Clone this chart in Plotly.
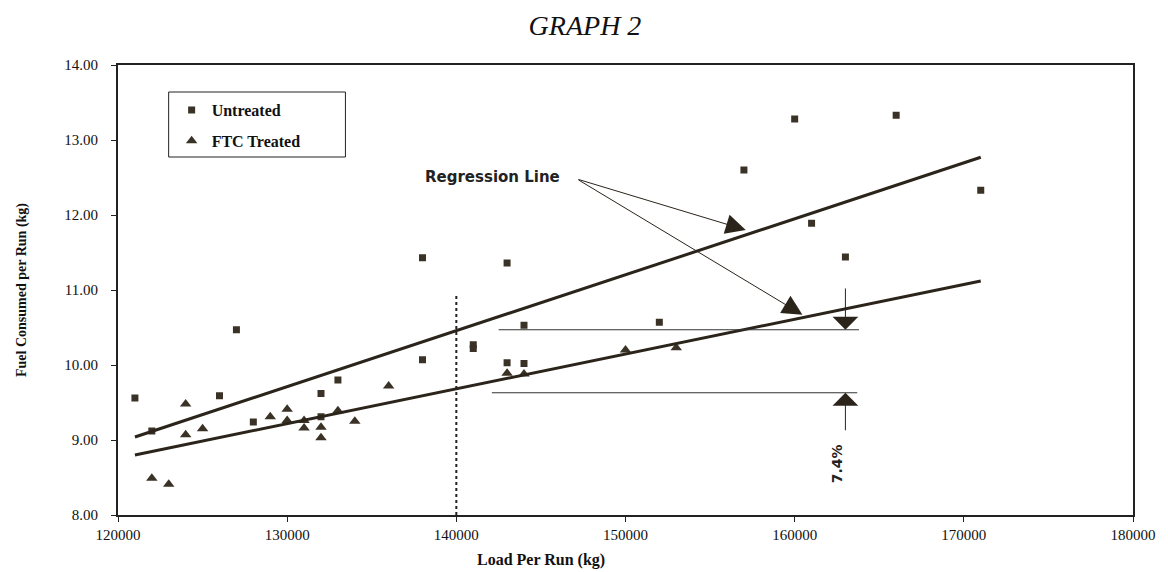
import plotly.graph_objects as go

# ---- data ----
untreated_load = [121000, 122000, 126000, 127000, 128000, 132000, 132000, 133000,
                  138000, 138000, 141000, 141000, 143000, 143000, 144000, 144000,
                  152000, 157000, 160000, 161000, 163000, 166000, 171000]
untreated_fuel = [9.56, 9.12, 9.59, 10.47, 9.24, 9.62, 9.31, 9.80,
                  11.43, 10.07, 10.22, 10.27, 11.36, 10.03, 10.53, 10.02,
                  10.57, 12.60, 13.28, 11.89, 11.44, 13.33, 12.33]

treated_load = [122000, 123000, 124000, 124000, 125000, 129000, 130000, 130000,
                131000, 131000, 132000, 132000, 133000, 134000, 136000, 143000,
                144000, 150000, 153000]
treated_fuel = [8.49, 8.41, 9.48, 9.07, 9.15, 9.31, 9.41, 9.26,
                9.26, 9.16, 9.17, 9.03, 9.39, 9.25, 9.72, 9.89,
                9.88, 10.20, 10.23]

fit_load = [121000, 171000]
untreated_fit = [9.04, 12.77]
treated_fit = [8.80, 11.12]

divider_load = 140000
divider_top = 10.95
ref_lines = {"upper": (142500, 163800, 10.47), "lower": (142100, 163700, 9.63)}

x_ticks = [120000, 130000, 140000, 150000, 160000, 170000, 180000]
y_ticks = [8, 9, 10, 11, 12, 13, 14]

ink = "#3a3226"
line_ink = "#2b241b"
serif = "Liberation Serif"
sans = "DejaVu Sans"

fig = go.Figure()

fig.add_trace(go.Scatter(x=untreated_load, y=untreated_fuel, mode="markers", name="Untreated",
                         legendgroup="a",
                         marker=dict(symbol="square", size=7, color=ink)))
fig.add_trace(go.Scatter(x=treated_load, y=treated_fuel, mode="markers", name="FTC Treated",
                         legendgroup="b",
                         marker=dict(symbol="triangle-up", size=10, color=ink)))
fig.add_trace(go.Scatter(x=fit_load, y=untreated_fit, mode="lines", showlegend=False,
                         line=dict(color=line_ink, width=3)))
fig.add_trace(go.Scatter(x=fit_load, y=treated_fit, mode="lines", showlegend=False,
                         line=dict(color=line_ink, width=3)))

# dotted divider
fig.add_trace(go.Scatter(x=[divider_load, divider_load], y=[8, divider_top], mode="lines",
                         showlegend=False, line=dict(color="#222", width=2, dash="dot")))
# reference horizontals
for x0, x1, yv in ref_lines.values():
    fig.add_trace(go.Scatter(x=[x0, x1], y=[yv, yv], mode="lines", showlegend=False,
                             line=dict(color="#333", width=1)))

annotations = []
# Regression Line label + arrows
annotations.append(dict(x=142140, y=12.51, xref="x", yref="y", text="<b>Regression Line</b>",
                        showarrow=False, font=dict(family=sans, size=15, color="#222")))
for tx, ty in [(157110, 11.80), (160460, 10.67)]:
    annotations.append(dict(x=tx, y=ty, xref="x", yref="y", ax=147130, ay=12.48,
                            axref="x", ayref="y", text="", showarrow=True,
                            arrowhead=2, arrowsize=4, arrowwidth=1, arrowcolor=line_ink,
                            standoff=0, startstandoff=0))
# 7.4% arrows
annotations.append(dict(x=163000, y=10.47, xref="x", yref="y", ax=163000, ay=11.04,
                        axref="x", ayref="y", text="", showarrow=True, arrowhead=1,
                        arrowsize=4.3, arrowwidth=1, arrowcolor=line_ink, standoff=0))
annotations.append(dict(x=163000, y=9.63, xref="x", yref="y", ax=163000, ay=9.11,
                        axref="x", ayref="y", text="", showarrow=True, arrowhead=1,
                        arrowsize=4.3, arrowwidth=1, arrowcolor=line_ink, standoff=0))
annotations.append(dict(x=162500, y=8.69, xref="x", yref="y", text="<b>7.4%</b>",
                        textangle=-90, showarrow=False,
                        font=dict(family=sans, size=14, color="#222")))
# x axis title (off-centre in the original)
annotations.append(dict(x=(537 - 111) / 1022, y=-45 / 450, xref="paper", yref="paper",
                        text="<b>Load Per Run (kg)</b>", showarrow=False,
                        xanchor="center", yanchor="middle",
                        font=dict(family=serif, size=16, color="#111")))

# legend frame
legend_box = dict(type="rect", xref="paper", yref="paper",
                  x0=(162 - 111) / 1022, x1=(340 - 111) / 1022,
                  y0=(515 - 157) / 450, y1=(515 - 92) / 450,
                  line=dict(color="#222", width=1), fillcolor="white", layer="below")

fig.update_layout(
    width=1168, height=572,
    paper_bgcolor="white", plot_bgcolor="white",
    margin=dict(l=103, r=43, t=57, b=65),
    title=dict(text="<i>GRAPH 2</i>", x=577 / 1168, xref="container", y=1 - 17 / 572,
               yref="container", xanchor="center", yanchor="middle",
               font=dict(family=serif, size=28, color="#111")),
    showlegend=True,
    legend=dict(x=(165 - 111) / 1022, y=(515 - 93) / 450, xanchor="left", yanchor="top",
                borderwidth=0, bgcolor="rgba(0,0,0,0)",
                tracegroupgap=7, itemsizing="trace", itemwidth=30,
                font=dict(family=serif, size=16, color="#111", weight="bold")),
    shapes=[legend_box],
    annotations=annotations,
)

fig.update_xaxes(range=[120000, 180000], tickvals=x_ticks, tickformat="d",
                 showgrid=False, zeroline=False, showline=True, linecolor="#222",
                 linewidth=2, mirror=True, ticks="outside", ticklen=5, tickcolor="#222",
                 tickfont=dict(family=serif, size=15, color="#111"))
fig.update_yaxes(range=[8, 14], tickvals=y_ticks, tickformat=".2f",
                 showgrid=False, zeroline=False, showline=True, linecolor="#222",
                 linewidth=2, mirror=True, ticks="outside", ticklen=5, tickcolor="#222",
                 ticklabelstandoff=10,
                 tickfont=dict(family=serif, size=15, color="#111"),
                 title=dict(text="<b>Fuel Consumed per Run (kg)</b>", standoff=34,
                            font=dict(family=serif, size=14, color="#111")))

fig.write_html("out.html")
